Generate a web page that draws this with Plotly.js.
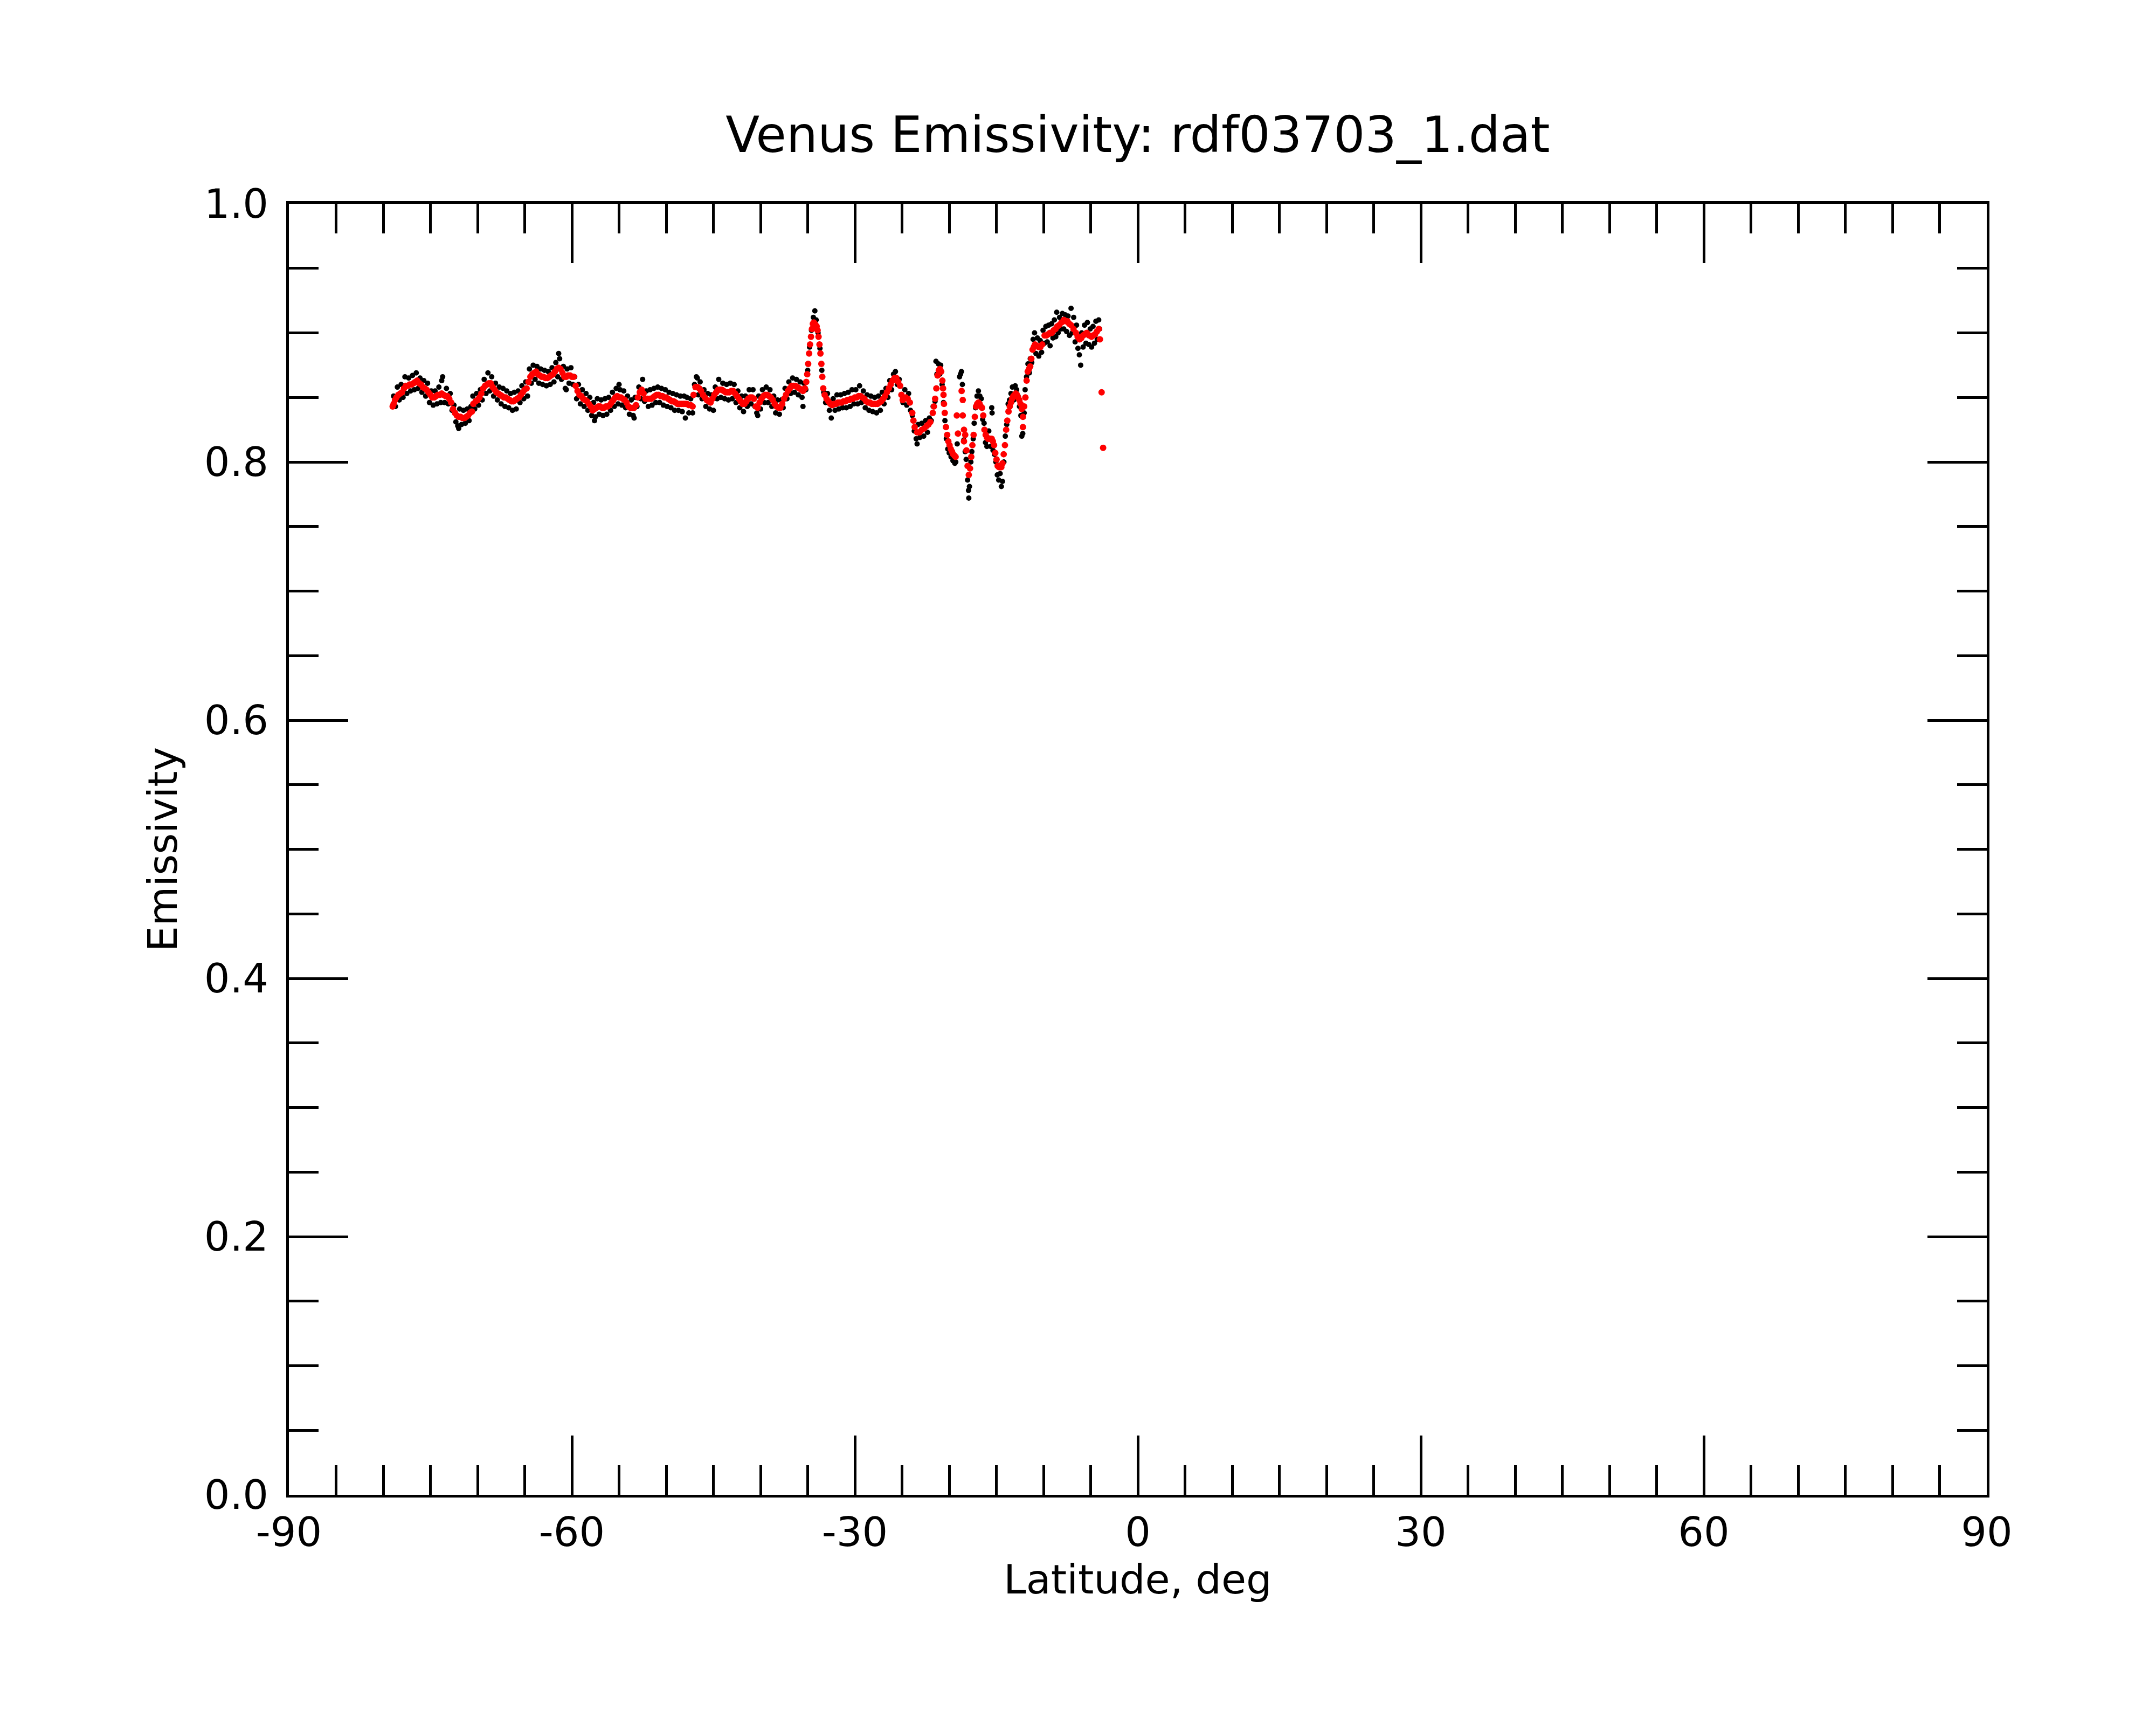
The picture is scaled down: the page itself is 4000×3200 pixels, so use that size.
<!DOCTYPE html>
<html>
<head>
<meta charset="utf-8">
<script src="https://cdn.plot.ly/plotly-3.0.1.min.js"></script>
<style>html,body{margin:0;padding:0;background:#fff;}</style>
</head>
<body>
<div id="chart" style="width:4000px;height:3200px;"></div>
<script>
// Smoothed emissivity (red)
const redLat = [-79.0,-78.9,-78.75,-78.6,-78.4,-78.2,-78.0,-77.8,-77.6,-77.4,-77.2,-77.0,-76.8,-76.6,-76.4,-76.2,-76.0,-75.8,-75.6,-75.4,-75.2,-75.0,-74.8,-74.6,-74.4,-74.2,-74.0,-73.8,-73.6,-73.4,-73.2,-73.0,-72.8,-72.6,-72.4,-72.2,-72.0,-71.8,-71.6,-71.4,-71.2,-71.0,-70.8,-70.6,-70.45,-70.2,-70.0,-69.8,-69.6,-69.4,-69.2,-69.0,-68.8,-68.6,-68.4,-68.2,-68.0,-67.8,-67.6,-67.4,-67.2,-67.0,-66.8,-66.6,-66.4,-66.2,-66.0,-65.8,-65.6,-65.4,-65.2,-65.0,-64.8,-64.6,-64.4,-64.2,-64.0,-63.8,-63.6,-63.4,-63.2,-63.0,-62.8,-62.6,-62.4,-62.2,-62.0,-61.8,-61.6,-61.4,-61.2,-61.0,-60.8,-60.6,-60.4,-60.2,-60.0,-59.8,-59.6,-59.4,-59.2,-59.0,-58.8,-58.6,-58.4,-58.2,-58.0,-57.8,-57.6,-57.4,-57.2,-57.0,-56.8,-56.6,-56.4,-56.2,-56.0,-55.8,-55.6,-55.4,-55.2,-55.0,-54.8,-54.6,-54.4,-54.2,-54.0,-53.8,-53.6,-53.4,-53.2,-53.0,-52.8,-52.6,-52.4,-52.2,-52.0,-51.8,-51.6,-51.4,-51.2,-51.0,-50.8,-50.6,-50.4,-50.2,-50.0,-49.8,-49.6,-49.4,-49.2,-49.0,-48.8,-48.6,-48.4,-48.2,-48.0,-47.8,-47.6,-47.4,-47.2,-47.1,-46.9,-46.7,-46.5,-46.3,-46.1,-45.9,-45.7,-45.5,-45.3,-45.1,-44.9,-44.7,-44.5,-44.3,-44.1,-43.9,-43.7,-43.5,-43.3,-43.1,-42.9,-42.7,-42.5,-42.3,-42.1,-41.9,-41.7,-41.5,-41.3,-41.1,-40.9,-40.7,-40.5,-40.3,-40.1,-39.9,-39.7,-39.5,-39.3,-39.1,-38.9,-38.7,-38.5,-38.3,-38.1,-37.9,-37.7,-37.5,-37.3,-37.1,-36.9,-36.7,-36.5,-36.3,-36.1,-35.9,-35.7,-35.5,-35.3,-35.15,-35.05,-34.95,-34.85,-34.75,-34.65,-34.55,-34.45,-34.35,-34.25,-34.15,-34.05,-33.95,-33.85,-33.75,-33.65,-33.55,-33.45,-33.35,-33.2,-33.0,-32.8,-32.6,-32.4,-32.2,-32.0,-31.8,-31.6,-31.4,-31.2,-31.0,-30.8,-30.6,-30.4,-30.2,-30.0,-29.8,-29.6,-29.4,-29.2,-29.0,-28.8,-28.6,-28.4,-28.2,-28.0,-27.8,-27.6,-27.4,-27.2,-27.0,-26.8,-26.6,-26.4,-26.2,-26.0,-25.8,-25.6,-25.4,-25.2,-25.06,-24.93,-24.6,-24.4,-24.17,-23.91,-23.79,-23.66,-23.4,-23.15,-22.89,-22.64,-22.38,-22.2,-22.0,-21.74,-21.62,-21.49,-21.36,-21.23,-21.1,-20.98,-20.85,-20.72,-20.65,-20.6,-20.55,-20.47,-20.34,-20.21,-20.09,-19.96,-19.83,-19.7,-19.58,-19.45,-19.32,-19.19,-19.07,-18.68,-18.56,-18.56,-18.43,-18.43,-18.3,-18.17,-18.05,-17.92,-17.79,-17.66,-17.54,-17.41,-17.28,-17.15,-17.03,-16.9,-16.77,-16.64,-16.52,-16.39,-16.26,-16.13,-16.0,-15.88,-15.75,-15.62,-15.49,-15.37,-15.24,-15.11,-14.98,-14.86,-14.73,-14.6,-14.47,-14.35,-14.22,-14.09,-13.96,-13.84,-13.71,-13.58,-13.45,-13.33,-13.2,-13.07,-12.94,-12.82,-12.69,-12.56,-12.43,-12.31,-12.18,-12.18,-12.05,-11.92,-11.79,-11.67,-11.54,-11.41,-11.29,-11.16,-11.03,-10.9,-10.71,-10.52,-10.33,-10.14,-9.88,-9.69,-9.5,-9.31,-9.12,-8.92,-8.73,-8.54,-8.35,-8.1,-7.84,-7.65,-7.46,-7.27,-7.08,-6.82,-6.57,-6.38,-6.18,-5.99,-5.8,-5.61,-5.42,-5.17,-4.91,-4.72,-4.53,-4.34,-4.14,-4.02,-3.84,-3.68];
const redEmis = [0.843,0.845,0.848,0.850,0.852,0.853,0.854,0.857,0.859,0.859,0.860,0.860,0.861,0.862,0.863,0.861,0.860,0.858,0.857,0.856,0.854,0.852,0.850,0.850,0.851,0.852,0.852,0.853,0.852,0.851,0.851,0.849,0.846,0.841,0.838,0.836,0.835,0.835,0.834,0.834,0.835,0.836,0.838,0.839,0.845,0.847,0.848,0.850,0.853,0.857,0.859,0.860,0.861,0.861,0.858,0.856,0.854,0.853,0.852,0.851,0.850,0.850,0.849,0.848,0.847,0.847,0.848,0.849,0.850,0.852,0.854,0.856,0.857,0.862,0.866,0.868,0.869,0.870,0.868,0.867,0.866,0.866,0.865,0.865,0.866,0.867,0.868,0.870,0.872,0.873,0.872,0.869,0.866,0.866,0.867,0.867,0.866,0.866,0.859,0.855,0.852,0.851,0.849,0.848,0.847,0.845,0.843,0.840,0.841,0.842,0.843,0.843,0.842,0.842,0.843,0.843,0.844,0.846,0.848,0.850,0.851,0.850,0.850,0.849,0.848,0.846,0.843,0.842,0.842,0.842,0.844,0.850,0.854,0.856,0.853,0.849,0.849,0.849,0.849,0.850,0.851,0.852,0.852,0.851,0.851,0.850,0.850,0.849,0.848,0.847,0.847,0.846,0.845,0.845,0.845,0.845,0.845,0.845,0.844,0.844,0.843,0.852,0.858,0.858,0.857,0.855,0.852,0.850,0.848,0.847,0.846,0.849,0.852,0.854,0.856,0.856,0.856,0.855,0.854,0.854,0.854,0.855,0.855,0.853,0.851,0.849,0.847,0.845,0.845,0.847,0.849,0.850,0.850,0.849,0.843,0.842,0.846,0.849,0.851,0.852,0.852,0.851,0.850,0.848,0.845,0.843,0.842,0.842,0.845,0.849,0.852,0.855,0.857,0.859,0.859,0.859,0.858,0.857,0.856,0.855,0.857,0.862,0.868,0.876,0.884,0.891,0.897,0.903,0.907,0.908,0.907,0.906,0.905,0.902,0.897,0.891,0.884,0.876,0.866,0.857,0.852,0.849,0.847,0.845,0.844,0.845,0.845,0.846,0.846,0.846,0.847,0.847,0.848,0.848,0.849,0.849,0.850,0.850,0.851,0.851,0.850,0.849,0.847,0.846,0.846,0.845,0.845,0.845,0.845,0.846,0.847,0.849,0.851,0.854,0.857,0.860,0.863,0.865,0.865,0.862,0.859,0.852,0.848,0.850,0.849,0.846,0.838,0.832,0.827,0.823,0.823,0.825,0.826,0.828,0.829,0.831,0.838,0.843,0.849,0.857,0.867,0.871,0.872,0.870,0.863,0.857,0.852,0.845,0.838,0.827,0.821,0.816,0.813,0.810,0.808,0.806,0.805,0.804,0.836,0.822,0.855,0.848,0.836,0.825,0.816,0.821,0.809,0.797,0.790,0.795,0.804,0.813,0.821,0.835,0.843,0.845,0.846,0.845,0.843,0.842,0.836,0.825,0.821,0.819,0.818,0.818,0.818,0.818,0.816,0.813,0.807,0.802,0.797,0.796,0.796,0.796,0.799,0.806,0.813,0.825,0.832,0.839,0.843,0.846,0.849,0.851,0.852,0.853,0.852,0.850,0.848,0.845,0.841,0.835,0.827,0.843,0.850,0.863,0.870,0.872,0.874,0.880,0.887,0.889,0.891,0.890,0.889,0.889,0.891,0.898,0.898,0.899,0.900,0.900,0.902,0.903,0.905,0.906,0.908,0.910,0.909,0.909,0.907,0.906,0.903,0.900,0.897,0.895,0.896,0.898,0.899,0.900,0.898,0.897,0.898,0.899,0.901,0.903,0.895,0.854,0.811];

// Raw emissivity (black)
const blackLat = [-78.9,-78.7,-78.5,-78.3,-78.1,-77.9,-77.7,-77.5,-77.3,-77.1,-76.9,-76.7,-76.5,-76.3,-76.1,-75.9,-75.7,-75.5,-75.3,-75.1,-74.9,-74.7,-74.5,-74.3,-74.1,-73.9,-73.8,-73.7,-73.5,-73.3,-73.1,-72.9,-72.7,-72.5,-72.3,-72.1,-72.0,-71.9,-71.7,-71.5,-71.3,-71.1,-70.9,-70.7,-70.5,-70.3,-70.1,-69.9,-69.7,-69.5,-69.3,-69.1,-68.9,-68.7,-68.5,-68.3,-68.1,-67.9,-67.7,-67.5,-67.3,-67.1,-66.9,-66.7,-66.5,-66.3,-66.1,-65.9,-65.7,-65.5,-65.3,-65.1,-64.9,-64.7,-64.5,-64.3,-64.1,-63.9,-63.7,-63.5,-63.3,-63.1,-62.9,-62.7,-62.5,-62.3,-62.1,-61.9,-61.7,-61.5,-61.4,-61.3,-61.1,-60.9,-60.7,-60.6,-60.5,-60.3,-60.1,-59.9,-59.7,-59.5,-59.3,-59.1,-58.9,-58.7,-58.5,-58.3,-58.1,-57.9,-57.7,-57.6,-57.5,-57.3,-57.1,-56.9,-56.7,-56.5,-56.3,-56.1,-55.9,-55.7,-55.5,-55.3,-55.1,-55.0,-54.9,-54.7,-54.5,-54.3,-54.1,-53.9,-53.7,-53.5,-53.4,-53.3,-53.1,-52.9,-52.7,-52.5,-52.3,-52.1,-51.9,-51.7,-51.5,-51.3,-51.1,-50.9,-50.7,-50.5,-50.3,-50.1,-49.9,-49.7,-49.5,-49.3,-49.1,-48.9,-48.7,-48.5,-48.3,-48.1,-47.97,-47.8,-47.6,-47.4,-47.2,-47.0,-46.8,-46.7,-46.6,-46.4,-46.2,-46.0,-45.8,-45.6,-45.4,-45.2,-45.0,-44.8,-44.6,-44.43,-44.2,-44.0,-43.8,-43.6,-43.4,-43.2,-43.0,-42.8,-42.6,-42.4,-42.2,-42.0,-41.8,-41.6,-41.4,-41.2,-41.0,-40.8,-40.6,-40.4,-40.3,-40.2,-40.0,-39.8,-39.6,-39.4,-39.2,-39.0,-38.8,-38.6,-38.4,-38.2,-38.0,-37.8,-37.6,-37.4,-37.2,-37.0,-36.8,-36.6,-36.4,-36.2,-36.0,-35.8,-35.6,-35.5,-35.4,-35.2,-35.0,-34.8,-34.6,-34.4,-34.24,-34.1,-33.9,-33.7,-33.5,-33.3,-33.1,-32.9,-32.7,-32.5,-32.3,-32.1,-31.9,-31.7,-31.5,-31.3,-31.1,-30.9,-30.7,-30.5,-30.3,-30.1,-29.9,-29.7,-29.5,-29.3,-29.1,-28.9,-28.7,-28.5,-28.3,-28.1,-27.9,-27.7,-27.5,-27.3,-27.1,-26.9,-26.7,-26.5,-26.3,-26.1,-25.9,-25.7,-25.5,-25.3,-25.1,-24.9,-24.7,-24.5,-24.3,-24.1,-23.9,-23.7,-23.5,-23.4,-23.3,-23.1,-22.9,-22.7,-22.5,-22.3,-22.1,-21.9,-21.7,-21.5,-21.4,-21.3,-21.15,-21.0,-20.9,-20.75,-20.6,-20.45,-20.3,-20.15,-20.0,-19.8,-19.6,-19.4,-19.3,-19.15,-18.9,-18.8,-18.7,-18.6,-18.45,-18.3,-18.2,-18.05,-17.95,-17.92,-17.85,-17.7,-17.6,-17.45,-17.35,-17.2,-17.05,-16.9,-16.75,-16.6,-16.45,-16.3,-16.15,-16.0,-15.8,-15.6,-15.49,-15.45,-15.35,-15.2,-15.05,-14.9,-14.75,-14.6,-14.47,-14.35,-14.2,-14.05,-13.9,-13.75,-13.6,-13.45,-13.3,-13.15,-13.0,-12.85,-12.7,-12.55,-12.4,-12.3,-12.2,-12.05,-11.95,-11.8,-11.65,-11.5,-11.4,-11.25,-11.1,-10.95,-10.8,-10.65,-10.5,-10.35,-10.2,-10.05,-9.9,-9.75,-9.6,-9.45,-9.3,-9.15,-9.0,-8.85,-8.7,-8.6,-8.45,-8.3,-8.15,-8.0,-7.85,-7.7,-7.55,-7.4,-7.25,-7.08,-6.95,-6.8,-6.65,-6.5,-6.35,-6.2,-6.06,-5.95,-5.8,-5.65,-5.5,-5.35,-5.2,-5.05,-4.9,-4.75,-4.6,-4.45,-4.3,-4.15,-4.05];
const blackEmis = [0.851,0.843,0.858,0.848,0.860,0.850,0.866,0.853,0.865,0.855,0.867,0.856,0.869,0.857,0.865,0.854,0.863,0.851,0.861,0.846,0.855,0.844,0.855,0.845,0.858,0.846,0.863,0.866,0.846,0.857,0.845,0.853,0.840,0.844,0.831,0.828,0.826,0.841,0.829,0.840,0.830,0.841,0.832,0.843,0.851,0.841,0.853,0.844,0.856,0.848,0.864,0.853,0.869,0.855,0.866,0.851,0.861,0.848,0.858,0.845,0.857,0.843,0.855,0.842,0.853,0.840,0.854,0.841,0.855,0.846,0.859,0.849,0.862,0.851,0.872,0.861,0.875,0.864,0.874,0.861,0.872,0.860,0.871,0.859,0.870,0.860,0.873,0.862,0.877,0.866,0.884,0.880,0.864,0.874,0.857,0.856,0.872,0.861,0.873,0.860,0.866,0.849,0.860,0.845,0.856,0.843,0.853,0.840,0.850,0.836,0.846,0.832,0.835,0.849,0.837,0.848,0.836,0.849,0.837,0.850,0.840,0.854,0.843,0.857,0.845,0.860,0.856,0.844,0.855,0.842,0.851,0.837,0.848,0.836,0.834,0.850,0.843,0.858,0.849,0.864,0.847,0.855,0.843,0.856,0.844,0.857,0.846,0.858,0.846,0.857,0.844,0.856,0.843,0.854,0.842,0.853,0.840,0.852,0.840,0.851,0.839,0.851,0.834,0.850,0.838,0.849,0.838,0.860,0.866,0.865,0.852,0.862,0.849,0.856,0.843,0.853,0.841,0.852,0.840,0.858,0.849,0.864,0.850,0.861,0.849,0.860,0.848,0.861,0.849,0.860,0.846,0.855,0.842,0.851,0.839,0.851,0.843,0.856,0.845,0.856,0.843,0.838,0.836,0.851,0.841,0.856,0.846,0.858,0.846,0.856,0.843,0.851,0.838,0.848,0.837,0.848,0.842,0.857,0.849,0.862,0.853,0.865,0.854,0.864,0.852,0.862,0.850,0.843,0.861,0.856,0.871,0.889,0.902,0.912,0.917,0.910,0.900,0.888,0.871,0.854,0.846,0.853,0.840,0.834,0.849,0.840,0.852,0.841,0.852,0.842,0.853,0.842,0.854,0.843,0.856,0.845,0.856,0.845,0.859,0.846,0.855,0.842,0.852,0.840,0.851,0.839,0.850,0.838,0.851,0.840,0.854,0.845,0.857,0.850,0.863,0.856,0.868,0.870,0.860,0.864,0.852,0.846,0.856,0.844,0.853,0.840,0.836,0.824,0.818,0.814,0.829,0.819,0.830,0.820,0.832,0.823,0.834,0.832,0.843,0.847,0.878,0.868,0.876,0.868,0.875,0.860,0.846,0.832,0.818,0.810,0.807,0.804,0.801,0.799,0.800,0.814,0.866,0.868,0.870,0.860,0.817,0.808,0.802,0.786,0.778,0.772,0.781,0.800,0.808,0.818,0.830,0.842,0.851,0.855,0.851,0.849,0.833,0.830,0.815,0.812,0.824,0.812,0.842,0.838,0.809,0.806,0.800,0.790,0.786,0.791,0.781,0.785,0.800,0.820,0.829,0.845,0.848,0.853,0.858,0.848,0.859,0.856,0.851,0.843,0.836,0.820,0.822,0.838,0.856,0.866,0.876,0.869,0.880,0.877,0.895,0.900,0.884,0.896,0.882,0.894,0.885,0.902,0.892,0.905,0.893,0.906,0.890,0.907,0.896,0.910,0.897,0.916,0.900,0.912,0.903,0.915,0.903,0.914,0.901,0.913,0.898,0.919,0.900,0.912,0.893,0.906,0.888,0.883,0.875,0.900,0.889,0.906,0.892,0.908,0.891,0.903,0.889,0.905,0.892,0.909,0.895,0.910,0.903];

const xTicks = [-90,-60,-30,0,30,60,90];
const yTicks = [0.0,0.2,0.4,0.6,0.8,1.0];
const yTickText = ['0.0','0.2','0.4','0.6','0.8','1.0'];

const FONT = 'DejaVu Sans, Liberation Sans, sans-serif';

const traces = [
  {x: blackLat, y: blackEmis, type: 'scatter', mode: 'markers',
   marker: {color: 'black', size: 10}, hoverinfo: 'skip', showlegend: false},
  {x: redLat, y: redEmis, type: 'scatter', mode: 'markers',
   marker: {color: '#ff0000', size: 12}, hoverinfo: 'skip', showlegend: false}
];

const axisCommon = {
  showgrid: false, zeroline: false, showline: true, linecolor: 'black', linewidth: 5,
  mirror: 'ticks', ticks: 'inside', ticklen: 110, tickwidth: 5, tickcolor: 'black',
  tickfont: {family: FONT, size: 75, color: 'black'}, automargin: false
};

const layout = {
  width: 4000, height: 3200,
  paper_bgcolor: 'white', plot_bgcolor: 'white',
  margin: {l: 536, r: 314, t: 378, b: 427, pad: 0},
  showlegend: false,
  title: {text: 'Venus Emissivity: rdf03703_1.dat', font: {family: FONT, size: 92, color: 'black'},
          x: 0.5, xref: 'paper', xanchor: 'center', y: 0.922, yref: 'container', yanchor: 'middle'},
  xaxis: Object.assign({}, axisCommon, {
    range: [-90, 90], tickmode: 'array', tickvals: xTicks, ticktext: xTicks.map(String),
    minor: {dtick: 5, tick0: -90, ticks: 'inside', ticklen: 55, tickwidth: 5, tickcolor: 'black', showgrid: false}
  }),
  yaxis: Object.assign({}, axisCommon, {
    range: [0, 1], tickmode: 'array', tickvals: yTicks, ticktext: yTickText,
    ticklabelstandoff: 18,
    minor: {dtick: 0.05, tick0: 0, ticks: 'inside', ticklen: 55, tickwidth: 5, tickcolor: 'black', showgrid: false}
  }),
  annotations: [
    {text: 'Latitude, deg', xref: 'paper', yref: 'paper', x: 0.5, y: -0.0655,
     xanchor: 'center', yanchor: 'middle', showarrow: false, borderpad: 0,
     font: {family: FONT, size: 75, color: 'black'}},
    {text: 'Emissivity', xref: 'paper', yref: 'paper', x: -0.0744, y: 0.5,
     xanchor: 'center', yanchor: 'middle', textangle: -90, showarrow: false, borderpad: 0,
     font: {family: FONT, size: 75, color: 'black'}}
  ]
};

Plotly.newPlot('chart', traces, layout, {staticPlot: true, displayModeBar: false});
</script>
</body>
</html>
